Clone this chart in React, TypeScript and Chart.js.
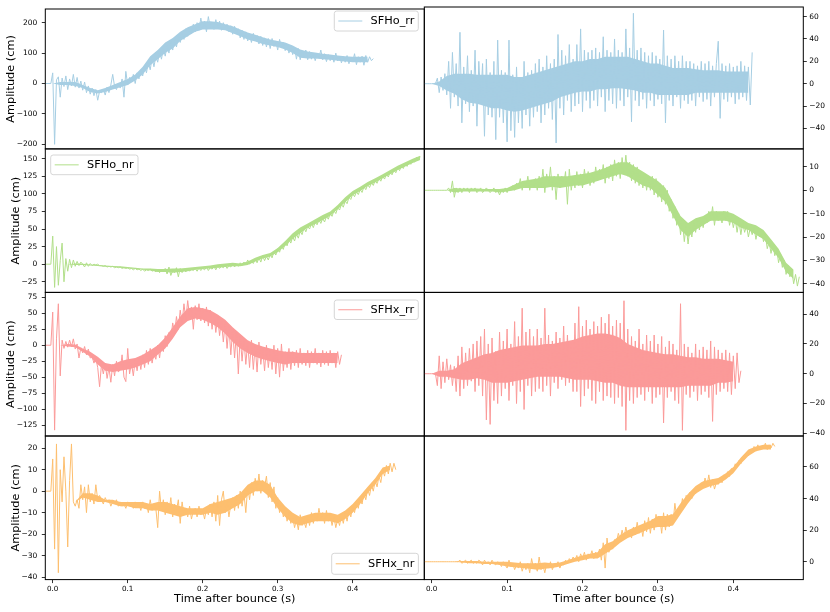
import { useEffect, useRef } from 'react';
import { Chart, registerables } from 'chart.js';

Chart.register(...registerables);

const FONT = "'DejaVu Sans', sans-serif";

// sample grid of every series (time after bounce, s)
const T0 = -0.01;
const DT = 0.0025;
// grid of the dense noise-band limits
const BDT = 0.01;

const X_TICKS = [0, 0.1, 0.2, 0.3, 0.4];
const X_TITLE = 'Time after bounce (s)';
const Y_TITLE = 'Amplitude (cm)';

const LABELS = ['SFHo_rr', 'SFHo_nr', 'SFHx_rr', 'SFHx_nr'];
const COLORS = ['#a6cee3', '#b2df8a', '#fb9a99', '#fdbf6f'];

// ---- series values (cm) ----
const SFHO_RR_L = [
  0, 0, 0, 0, 35, -200, 12, 22, -45, 18,
  -10, 25, -20, 15, -8, 30, -12, 20, -15, 8,
  -22, 5, -30, -8, -35, -15, -40, -20, -55, -25,
  -30, -18, -38, -12, -30, -5, 30, -10, -20, 0,
  -15, 15, -45, 40, -5, 20, 5, 30, 0, 35,
  15, 45, 25, 60, 35, 70, 45, 85, 55, 90,
  70, 105, 80, 115, 90, 125, 100, 140, 110, 145,
  120, 155, 135, 165, 145, 180, 155, 185, 165, 195,
  170, 200, 175, 215, 180, 205, 170, 220, 185, 200,
  178, 210, 182, 205, 175, 200, 185, 195, 170, 190,
  162, 188, 165, 180, 150, 175, 145, 170, 140, 160,
  135, 165, 140, 158, 130, 155, 125, 150, 120, 148,
  115, 148, 122, 140, 110, 145, 118, 135, 108, 130,
  100, 125, 95, 118, 80, 115, 78, 105, 85, 110,
  78, 105, 80, 100, 75, 95, 85, 110, 78, 98,
  72, 95, 75, 92, 70, 100, 74, 90, 68, 88,
  70, 92, 65, 85, 72, 98, 62, 88, 70, 90,
  60, 92, 70, 88, 75, 82,
];
const SFHO_RR_L_LO = [
  0, 0, -5, -5, -8, -15, -28, -33, -28, -20,
  -12, -5, 10, 30, 60, 80, 100, 115, 140, 155,
  170, 178, 178, 178, 175, 165, 155, 145, 138, 130,
  125, 120, 112, 100, 85, 82, 82, 80, 78, 75,
  72, 70, 70, 70,
];
const SFHO_RR_L_HI = [
  0, 0, 5, 5, 5, -5, -15, -22, -15, -5,
  5, 15, 30, 55, 90, 110, 135, 150, 170, 185,
  195, 205, 205, 202, 195, 188, 178, 168, 160, 152,
  145, 140, 135, 125, 112, 105, 102, 98, 95, 92,
  90, 88, 88, 88,
];

const SFHO_RR_R = [
  0, 0, 0, 0, 0, 0, 0, 5, -8, 6,
  -6, 9, -10, 20, -22, 28, -12, 18, -20, 46,
  -35, 15, -18, 25, -25, 12, -20, 30, -38, 20,
  -15, 18, -47, 22, -28, 10, -30, 20, -50, 39,
  -30, 12, -35, 10, -52, 39, -42, 8, -48, 15,
  -35, 5, -40, 20, -28, 10, -38, 12, -30, 18,
  -25, 22, -35, 15, -28, 25, -22, 18, -32, 22,
  -53, 44, -22, 30, -28, 25, -15, 35, -25, 22,
  -20, 35, -18, 49, -25, 30, -15, 28, -22, 30,
  -15, 32, -20, 28, -12, 42, -25, 30, -15, 28,
  -18, 40, -22, 30, -15, 28, -20, 49, -12, 32,
  -34, 63, -15, 30, -20, 32, -14, 28, -22, 25,
  -15, 28, -20, 25, -14, 22, -18, 48, -35, 25,
  -15, 22, -20, 25, -12, 20, -22, 25, -15, 20,
  -18, 20, -15, 18, -20, 16, -12, 20, -16, 18,
  -14, 20, -20, 16, -12, 18, 38, -31, 18, -14,
  16, -16, 18, -12, 15, -18, 16, -14, 20, -12,
  16, -15, 15, -19, 28,
];
const SFHO_RR_R_LO = [
  0, 0, -2, -6, -9, -14, -17, -18, -20, -22,
  -22, -24, -25, -24, -22, -20, -18, -16, -12, -10,
  -8, -7, -7, -5, -5, -4, -4, -5, -6, -8,
  -8, -10, -10, -10, -10, -10, -8, -8, -8, -8,
  -8, -8, -8, -8,
];
const SFHO_RR_R_HI = [
  0, 0, 2, 7, 9, 9, 9, 8, 8, 8,
  8, 8, 6, 6, 8, 10, 12, 14, 16, 18,
  20, 20, 22, 22, 24, 24, 24, 24, 22, 20,
  18, 18, 16, 14, 14, 14, 13, 12, 12, 12,
  11, 11, 11, 11,
];

const SFHO_NR_L = [
  0, 0, 0, 0, 40, -33, 25, -30, 5, 30,
  -25, 8, -10, 7, -5, 6, -3, 4, -2, 3,
  0, -4, 2, -3, 1, -2, 0, -1, 0, -2,
  -2, -3, -2, -4, -3, -4, -3, -5, -4, -5,
  -4, -6, -5, -6, -5, -7, -6, -8, -6, -8,
  -7, -9, -7, -10, -8, -9, -7, -10, -8, -11,
  -8, -12, -7, -11, -6, -14, -4, -16, -9, -12,
  -5, -18, -6, -12, -7, -11, -6, -10, -7, -9,
  -6, -10, -5, -9, -6, -8, -4, -9, -5, -7,
  -3, -8, -2, -6, -3, -5, -1, -6, -2, -4,
  1, -4, 0, -3, 2, -2, 3, -1, 6, 0,
  4, 1, 7, 2, 9, 3, 12, 5, 11, 6,
  14, 9, 18, 13, 22, 17, 26, 21, 31, 26,
  35, 30, 39, 33, 43, 37, 47, 42, 52, 46,
  54, 50, 58, 52, 60, 56, 63, 58, 65, 60,
  68, 64, 72, 68, 76, 72, 80, 77, 85, 81,
  90, 86, 95, 92, 100, 96, 103, 99, 106, 102,
  110, 106, 113, 109, 116, 112, 119, 115, 122, 118,
  125, 121, 128, 124, 131, 127, 134, 130, 137, 133,
  140, 136, 143, 139, 146, 142, 149, 145, 152, 148,
  153,
];
const SFHO_NR_L_LO = [
  0, 0, 0, 0, -1, -1, -2, -2.5, -3.5, -4,
  -5, -6, -7, -8, -9, -11, -11, -12, -11, -10,
  -8, -7, -6, -5, -4, -3, -3, -1, 4, 8,
  11, 17, 26, 36, 44, 52, 57, 63, 69, 78,
  88, 98, 104, 111, 116, 122, 128, 134, 139, 144,
  148,
];
const SFHO_NR_L_HI = [
  0, 0, 0, 0, 1, 0.5, -0.5, -1, -2, -2.5,
  -3, -4, -5, -6, -6, -7, -7, -6, -6, -5,
  -4, -3, -2, 0, 1, 2, 1, 4, 9, 13,
  16, 23, 33, 44, 52, 58, 64, 70, 75, 84,
  95, 104, 110, 117, 122, 128, 134, 140, 145, 150,
  154,
];

const SFHO_NR_R = [
  0, 0, 0, 0, 0, 0, 0, 0, 0, 0,
  0, 0, 0, 1, -1, 4, -3, 1, -1, 1,
  -1, 1, 0, 1, -1, 1, 0, 1, -1, 0,
  1, -1, 0, 1, 0, -1, 0, 1, -1, 0,
  -2, 0, -1, 1, -1, 1, 0, 2, 0, 3,
  1, 5, 0, 4, 1, 6, 0, 4, 1, 5,
  0, 6, 1, 9, -1, 7, 2, 10, 0, 6,
  -4, 7, 1, 6, 2, 8, -6, 9, 0, 5,
  1, 8, 2, 7, 1, 9, 3, 8, 2, 7,
  3, 10, 4, 9, 5, 11, 3, 10, 5, 11,
  4, 13, 6, 12, 5, 14, 7, 15, 6, 12,
  4, 11, 3, 10, 2, 8, 1, 7, 0, 6,
  0, 6, -2, 5, -3, 3, -5, 2, -6, 0,
  -9, -4, -12, -7, -15, -10, -19, -13, -22, -15,
  -23, -16, -20, -14, -18, -12, -17, -12, -16, -11,
  -14, -9, -13, -7, -15, -9, -13, -10, -14, -9,
  -13, -9, -15, -11, -16, -12, -18, -13, -19, -14,
  -18, -15, -20, -16, -19, -16, -21, -17, -20, -17,
  -22, -19, -25, -22, -27, -23, -28, -25, -31, -27,
  -33, -30, -36, -32, -37, -34, -40, -36, -41, -37,
];
const SFHO_NR_R_LO = [
  0, 0, 0, 0, -1, -0.5, -0.5, -0.5, -0.5, -0.5,
  -1, -0.5, 0, 1, 1, 1, 1, 1.5, 1, 1.5,
  2, 2, 3, 4, 5, 6, 7, 6, 4, 2,
  1, -2, -5, -11, -17, -20, -17, -15, -13, -13,
  -13, -14, -16, -17, -19, -21, -25, -29, -35, -38,
];
const SFHO_NR_R_HI = [
  0, 0, 0, 0, 1, 0.8, 0.8, 0.8, 0.5, 0.5,
  0.5, 1, 2.5, 4, 4.5, 5, 6, 6, 6, 6,
  6.5, 7, 7.5, 8.5, 9.5, 11, 12, 12, 10, 8,
  6, 4, 1, -5, -11, -14, -12, -11, -9, -9,
  -9, -10, -12, -14, -15, -17, -21, -25, -31, -34,
];

const SFHX_RR_L = [
  0, 0, 0, 0, 52, -133, 10, 65, -48, 8,
  -5, 6, -3, 8, -2, 10, -6, 2, -20, -4,
  -12, -2, -15, -6, -20, -18, -28, -20, -35, -65,
  -30, -45, -28, -52, -35, -58, -30, -48, -25, -42,
  -38, -15, -50, -57, -5, -45, -28, -48, -22, -40,
  -20, -38, -15, -35, -8, -30, -5, -28, -12, -22,
  0, -20, 5, -10, 15, -2, 20, 10, 35, 18,
  45, 25, 55, 35, 65, 40, 70, 45, 60, 25,
  62, 40, 65, 38, 58, 35, 60, 30, 55, 25,
  50, 20, 45, 15, 40, 5, 35, -5, 30, -15,
  25, -20, 20, -45, 15, -25, 10, -30, 5, -35,
  8, -38, 0, -42, 5, -30, -5, -40, 0, -35,
  -8, -38, 0, -45, -5, -50, 2, -40, -10, -35,
  -5, -38, -10, -32, -8, -35, -5, -30, -12, -32,
  -8, -35, -10, -28, -5, -30, -12, -34, -8, -30,
  -10, -32, -8, -28, -12, -35, -10, -30, -15,
];
const SFHX_RR_L_LO = [
  0, 0, 0, -2, -3, -10, -18, -30, -40, -42,
  -40, -38, -35, -30, -25, -15, -5, 10, 28, 38,
  42, 40, 35, 28, 18, 5, -5, -12, -18, -22,
  -25, -28, -30, -28, -28, -28, -28, -28, -28, -28,
];
const SFHX_RR_L_HI = [
  0, 0, 0, 2, 1, -5, -10, -18, -28, -30,
  -25, -22, -20, -15, -8, 0, 12, 28, 45, 58,
  60, 58, 55, 48, 40, 28, 18, 8, 2, -2,
  -5, -8, -10, -10, -12, -12, -12, -12, -12, -12,
];

const SFHX_RR_R = [
  0, 0, 0, 0, 0, 0, 0, -8, 12, -10,
  8, -6, 10, -4, 6, -8, 5, -12, 12, -15,
  18, -10, 14, -8, 17, -5, 20, -12, 22, -8,
  25, -15, 30, -31, 20, -34, 24, -18, 15, -20,
  28, -15, 22, -10, 30, -18, 20, -8, 35, -20,
  25, -12, 44, -24, 28, -8, 30, -15, 25, -12,
  30, -10, 24, -12, 44, -8, 26, -15, 22, -6,
  28, -10, 24, -4, 32, -8, 26, -6, 22, -12,
  34, -12, 45, -22, 32, -15, 36, -10, 30, -18,
  35, -20, 32, -12, 38, -18, 34, -15, 40, -16,
  32, -20, 36, -16, 34, -22, 49, -38, 30, -18,
  25, -20, 22, -16, 30, -14, 20, -18, 26, -12,
  22, -20, 26, -16, 20, -14, 25, -33, 18, -16,
  22, -12, 20, -18, 16, -20, 47, -38, 20, -14,
  18, -16, 14, -12, 20, -18, 16, -14, 18, -12,
  16, -16, 22, -32, 18, -14, 16, -12, 14, -10,
  16, -12, 14, -14, 12, -10, 14, -6, 2,
];
const SFHX_RR_R_LO = [
  0, 0, -2, -2, -3, -4, -4, -3, -4, -6,
  -6, -6, -5, -4, -3, -2, -2, -2, -2, -3,
  -4, -4, -4, -5, -6, -6, -8, -9, -9, -9,
  -9, -9, -9, -9, -9, -8, -8, -8, -8, -6,
  -6, -5,
];
const SFHX_RR_R_HI = [
  0, 0, 2, 2, 3, 7, 9, 11, 13, 14,
  16, 17, 18, 19, 19, 19, 20, 20, 21, 22,
  23, 25, 26, 27, 27, 26, 24, 20, 18, 16,
  15, 14, 13, 13, 12, 11, 11, 10, 10, 10,
  9, 8,
];

const SFHX_NR_L = [
  0, 0, 0, 0, 15, -27, 22, -38, 10, -5,
  16, 0, -26, 5, 22, -5, -7, -4, -8, 3,
  -4, 2, -10, 3, -5, -1, -6, 3, -4, -2,
  -4, -6, -3, -5, -4, -7, -5, -6, -4, -7,
  -5, -7, -6, -8, -5, -7, -6, -8, -5, -7,
  -6, -9, -5, -8, -6, -10, -4, -9, -6, -8,
  -17, 0, -9, -4, -11, -5, -10, -3, -12, -6,
  -9, -4, -15, -5, -11, -8, -12, -7, -13, -9,
  -8, -12, -7, -11, -9, -13, -8, -11, -6, -12,
  -5, -14, -2, -16, -4, 0, -10, -5, -12, -6,
  -3, -9, -2, -8, 0, -7, -1, -10, 2, -4,
  4, -2, 6, 0, 8, -1, 5, 2, 7, -3,
  4, -5, 2, -8, -3, -10, -6, -12, -8, -14,
  -10, -15, -12, -17, -13, -18, -11, -16, -14, -17,
  -12, -16, -10, -15, -11, -14, -8, -13, -10, -15,
  -9, -14, -11, -16, -12, -17, -13, -16, -11, -15,
  -10, -14, -9, -12, -7, -10, -5, -8, -3, -6,
  -1, -4, 1, -2, 3, 0, 5, 2, 7, 4,
  10, 7, 12, 8, 13, 9, 13, 10,
];
const SFHX_NR_L_LO = [
  0, 0, 0, 0, -5, -3, -4, -5, -5, -6,
  -7, -7, -8, -8, -9, -9, -10, -11, -12, -11,
  -11, -11, -10, -11, -10, -8, -6, -2, 0, 0,
  -3, -8, -12, -15, -16, -15, -14, -14, -14, -15,
  -13, -10, -6, -1, 3, 8, 10,
];
const SFHX_NR_L_HI = [
  0, 0, 0, 0, -5, -1, -1, -2, -4, -4,
  -5, -5, -5, -5, -6, -5, -5, -6, -7, -8,
  -8, -8, -6, -5, -4, -3, -1, 3, 5, 5,
  3, -3, -7, -10, -12, -11, -10, -10, -10, -11,
  -9, -6, -2, 2, 6, 11, 12,
];

const SFHX_NR_R = [
  0, 0, 0, 0, 0, 0, 0, 0, 0, 0,
  0, 0, 0, 0, 0, 0, 0, 0, 0, 1,
  -1, 0, 1, -1, 0, 1, -1, 0, -1, 1,
  0, -2, 1, -1, 0, -2, 1, -1, -2, 0,
  -1, -3, 0, -2, -4, 1, -3, -1, -5, -2,
  -4, 0, -6, -2, -5, -1, -7, 2, -4, -1,
  -6, 3, -5, -2, -7, -1, -4, 0, -5, -2,
  -3, 0, -4, -1, -2, 1, -1, 2, 0, 3,
  1, 4, 0, 5, 2, 6, 1, 5, 3, 7,
  2, 6, 3, 8, 1, 12, -4, 15, 6, 11,
  8, 14, 12, 18, 14, 20, 15, 22, 16, 19,
  15, 22, 17, 25, 18, 23, 16, 26, 19, 28,
  18, 27, 20, 30, 22, 28, 18, 31, 20, 30,
  22, 30, 24, 37, 28, 34, 32, 40, 35, 42,
  38, 44, 40, 46, 43, 48, 45, 50, 47, 53,
  48, 55, 47, 52, 46, 50, 49, 53, 50, 55,
  53, 57, 54, 59, 57, 62, 60, 64, 62, 66,
  65, 69, 67, 71, 69, 73, 70, 74, 71, 73,
  72, 75, 71, 74, 72, 75, 73,
];
const SFHX_NR_R_LO = [
  0, 0, 0, 0, 0, -0.5, -1, -1, -1.5, -1.5,
  -2, -3, -3.5, -4, -4.5, -5, -4.5, -4, -3, -1.5,
  0, 1, 2, 2, 5, 8, 12, 15, 17, 19,
  21, 22, 22, 23, 30, 37, 43, 46, 48, 49,
  52, 56, 62, 67, 70, 71, 71,
];
const SFHX_NR_R_HI = [
  0, 0, 0, 0, 0, 0.5, 0.5, 0.5, 0, 0,
  0, 0, -0.5, -1, -1, -1, -0.5, -1, -0.5, 1,
  2.5, 4, 5, 6, 11, 13, 17, 20, 22, 24,
  26, 29, 29, 30, 37, 43, 48, 51, 52, 53,
  56, 60, 66, 71, 73, 74, 74,
];

// ---- y tick labels ----
const Y_TICKS_1L = [-200, -100, 0, 100, 200];
const Y_TICKS_1R = [-40, -20, 0, 20, 40, 60];
const Y_TICKS_2L = [-25, 0, 25, 50, 75, 100, 125, 150];
const Y_TICKS_2R = [-40, -30, -20, -10, 0, 10];
const Y_TICKS_3L = [-125, -100, -75, -50, -25, 0, 25, 50, 75];
const Y_TICKS_3R = [-40, -20, 0, 20, 40];
const Y_TICKS_4L = [-40, -30, -20, -10, 0, 10, 20];
const Y_TICKS_4R = [0, 20, 40, 60];

// ---- layout ----
const W = 830;
const H = 612;
const ROW_TOP = [5.3, 148.9, 292.4, 436];
const ROW_BOT = [148.9, 292.4, 436, 579.6];
const COL_L = [45.3, 424.3];
const COL_R = [424.3, 803.3];
const COL_XMIN = [-0.0099, -0.0098];
const COL_XMAX = [0.4955, 0.4928];

type Legend = { x: number; y: number; w: number; h: number };
type Panel = {
  row: number;
  col: number;
  data: number[];
  lo?: number[];
  hi?: number[];
  yMin: number;
  yMax: number;
  yTicks: number[];
  legend?: Legend;
  yTitleX?: number;
};

const PANELS: Panel[] = [
  { row: 0, col: 0, data: SFHO_RR_L, lo: SFHO_RR_L_LO, hi: SFHO_RR_L_HI, yMin: -215, yMax: 245, yTicks: Y_TICKS_1L, legend: { x: 334.3, y: 11, w: 84, h: 20 }, yTitleX: 11.5 },
  { row: 0, col: 1, data: SFHO_RR_R, lo: SFHO_RR_R_LO, hi: SFHO_RR_R_HI, yMin: -58.3, yMax: 68.6, yTicks: Y_TICKS_1R },
  { row: 1, col: 0, data: SFHO_NR_L, lo: SFHO_NR_L_LO, hi: SFHO_NR_L_HI, yMin: -40.1, yMax: 163.9, yTicks: Y_TICKS_2L, legend: { x: 50.7, y: 155, w: 87.3, h: 19.7 }, yTitleX: 16.2 },
  { row: 1, col: 1, data: SFHO_NR_R, lo: SFHO_NR_R_LO, hi: SFHO_NR_R_HI, yMin: -43.7, yMax: 17.7, yTicks: Y_TICKS_2R },
  { row: 2, col: 0, data: SFHX_RR_L, lo: SFHX_RR_L_LO, hi: SFHX_RR_L_HI, yMin: -142.2, yMax: 82.8, yTicks: Y_TICKS_3L, legend: { x: 334.3, y: 300, w: 84, h: 19.5 }, yTitleX: 11.3 },
  { row: 2, col: 1, data: SFHX_RR_R, lo: SFHX_RR_R_LO, hi: SFHX_RR_R_HI, yMin: -41.8, yMax: 54.6, yTicks: Y_TICKS_3R },
  { row: 3, col: 0, data: SFHX_NR_L, lo: SFHX_NR_L_LO, hi: SFHX_NR_L_HI, yMin: -41.2, yMax: 25.7, yTicks: Y_TICKS_4L, legend: { x: 331.7, y: 553.3, w: 86.7, h: 21 }, yTitleX: 15.7 },
  { row: 3, col: 1, data: SFHX_NR_R, lo: SFHX_NR_R_LO, hi: SFHX_NR_R_HI, yMin: -11.3, yMax: 79.6, yTicks: Y_TICKS_4R },
];

const fmtY = (v: number) => (v < 0 ? '\u2212' + Math.abs(v) : String(v));

function roundRect(ctx: CanvasRenderingContext2D, x: number, y: number, w: number, h: number, r: number) {
  ctx.beginPath();
  ctx.moveTo(x + r, y);
  ctx.lineTo(x + w - r, y);
  ctx.arcTo(x + w, y, x + w, y + r, r);
  ctx.lineTo(x + w, y + h - r);
  ctx.arcTo(x + w, y + h, x + w - r, y + h, r);
  ctx.lineTo(x + r, y + h);
  ctx.arcTo(x, y + h, x, y + h - r, r);
  ctx.lineTo(x, y + r);
  ctx.arcTo(x, y, x + r, y, r);
  ctx.closePath();
}

function buildConfig(p: Panel): any {
  const color = COLORS[p.row];
  const label = LABELS[p.row];
  const isBottom = p.row === 3;
  const isRight = p.col === 1;
  const L = COL_L[p.col];
  const R = COL_R[p.col];
  const T = ROW_TOP[p.row];
  const B = ROW_BOT[p.row];

  const decor = {
    id: 'decor',
    afterDraw(chart: any) {
      const ctx: CanvasRenderingContext2D = chart.ctx;
      const a = chart.chartArea;
      ctx.save();
      ctx.strokeStyle = '#000';
      ctx.lineWidth = 1;
      ctx.strokeRect(a.left, a.top, a.right - a.left, a.bottom - a.top);
      if (p.legend) {
        const lg = p.legend;
        roundRect(ctx, lg.x, lg.y, lg.w, lg.h, 2.5);
        ctx.fillStyle = 'rgba(255,255,255,0.8)';
        ctx.fill();
        ctx.strokeStyle = '#cccccc';
        ctx.lineWidth = 0.8;
        ctx.stroke();
        const my = lg.y + lg.h / 2;
        ctx.beginPath();
        ctx.moveTo(lg.x + 4, my);
        ctx.lineTo(lg.x + 28, my);
        ctx.strokeStyle = color;
        ctx.lineWidth = 1;
        ctx.stroke();
        ctx.fillStyle = '#000';
        ctx.font = `11.3px ${FONT}`;
        ctx.textAlign = 'left';
        ctx.textBaseline = 'middle';
        ctx.fillText(label, lg.x + 36.3, my + 0.5);
      }
      if (isBottom) {
        ctx.fillStyle = '#000';
        ctx.font = `11.3px ${FONT}`;
        ctx.textAlign = 'center';
        ctx.textBaseline = 'middle';
        ctx.fillText(X_TITLE, (a.left + a.right) / 2, 599.5);
      }
      if (p.yTitleX != null) {
        ctx.translate(p.yTitleX, (a.top + a.bottom) / 2);
        ctx.rotate(-Math.PI / 2);
        ctx.fillStyle = '#000';
        ctx.font = `11.3px ${FONT}`;
        ctx.textAlign = 'center';
        ctx.textBaseline = 'middle';
        ctx.fillText(Y_TITLE, 0, 0);
      }
      ctx.restore();
    },
  };

  const datasets: any[] = [
    {
      label,
      data: p.data.map((v, i) => ({ x: T0 + i * DT, y: v })),
      borderColor: color,
      backgroundColor: color,
      borderWidth: 1,
      pointRadius: 0,
      tension: 0,
      fill: false,
    },
  ];
  if (p.lo && p.hi) {
    datasets.push(
      {
        label: label + ' band low',
        data: p.lo.map((v, i) => ({ x: T0 + i * BDT, y: v })),
        borderWidth: 0,
        borderColor: 'rgba(0,0,0,0)',
        pointRadius: 0,
        tension: 0,
        fill: false,
      },
      {
        label: label + ' band high',
        data: p.hi.map((v, i) => ({ x: T0 + i * BDT, y: v })),
        borderWidth: 0,
        borderColor: 'rgba(0,0,0,0)',
        backgroundColor: color,
        pointRadius: 0,
        tension: 0,
        fill: '-1',
      },
    );
  }

  return {
    type: 'line',
    data: { datasets },
    options: {
      responsive: false,
      animation: false,
      devicePixelRatio: 1,
      events: [],
      layout: {
        autoPadding: false,
        padding: {
          left: isRight ? L : 0,
          right: isRight ? 0 : W - R,
          top: T,
          bottom: isBottom ? 0 : H - B,
        },
      },
      plugins: { legend: { display: false }, tooltip: { enabled: false } },
      scales: {
        x: {
          type: 'linear',
          display: isBottom,
          min: COL_XMIN[p.col],
          max: COL_XMAX[p.col],
          afterFit: (s: any) => {
            s.height = isBottom ? H - B : 0;
          },
          afterBuildTicks: (s: any) => {
            s.ticks = X_TICKS.map((v) => ({ value: v }));
          },
          ticks: {
            autoSkip: false,
            maxRotation: 0,
            padding: 1.5,
            color: '#000',
            font: { family: FONT, size: 7.2 },
            callback: (v: any) => Number(v).toFixed(1),
          },
          grid: {
            drawOnChartArea: false,
            drawTicks: true,
            tickLength: 3.5,
            tickColor: '#000',
            tickWidth: 0.8,
          },
          border: { display: false },
        },
        y: {
          type: 'linear',
          position: isRight ? 'right' : 'left',
          min: p.yMin,
          max: p.yMax,
          afterFit: (s: any) => {
            s.width = isRight ? W - R : L;
          },
          afterBuildTicks: (s: any) => {
            s.ticks = p.yTicks.map((v) => ({ value: v }));
          },
          ticks: {
            autoSkip: false,
            padding: isRight ? 2.5 : 4.5,
            color: '#000',
            font: { family: FONT, size: 7.5 },
            callback: (v: any) => fmtY(Number(v)),
          },
          grid: {
            drawOnChartArea: false,
            drawTicks: true,
            tickLength: 3.5,
            tickColor: '#000',
            tickWidth: 0.8,
          },
          border: { display: false },
        },
      },
    },
    plugins: [decor],
  };
}

export default function App() {
  const refs = useRef<(HTMLCanvasElement | null)[]>([]);

  useEffect(() => {
    const charts = PANELS.map((p, i) => new Chart(refs.current[i] as HTMLCanvasElement, buildConfig(p)));
    return () => charts.forEach((c) => c.destroy());
  }, []);

  return (
    <div style={{ position: 'fixed', left: 0, top: 0, width: W, height: H, background: '#fff' }}>
      {PANELS.map((_, i) => (
        <canvas
          key={i}
          ref={(el) => {
            refs.current[i] = el;
          }}
          width={W}
          height={H}
          style={{ position: 'absolute', left: 0, top: 0, width: W, height: H }}
        />
      ))}
    </div>
  );
}
